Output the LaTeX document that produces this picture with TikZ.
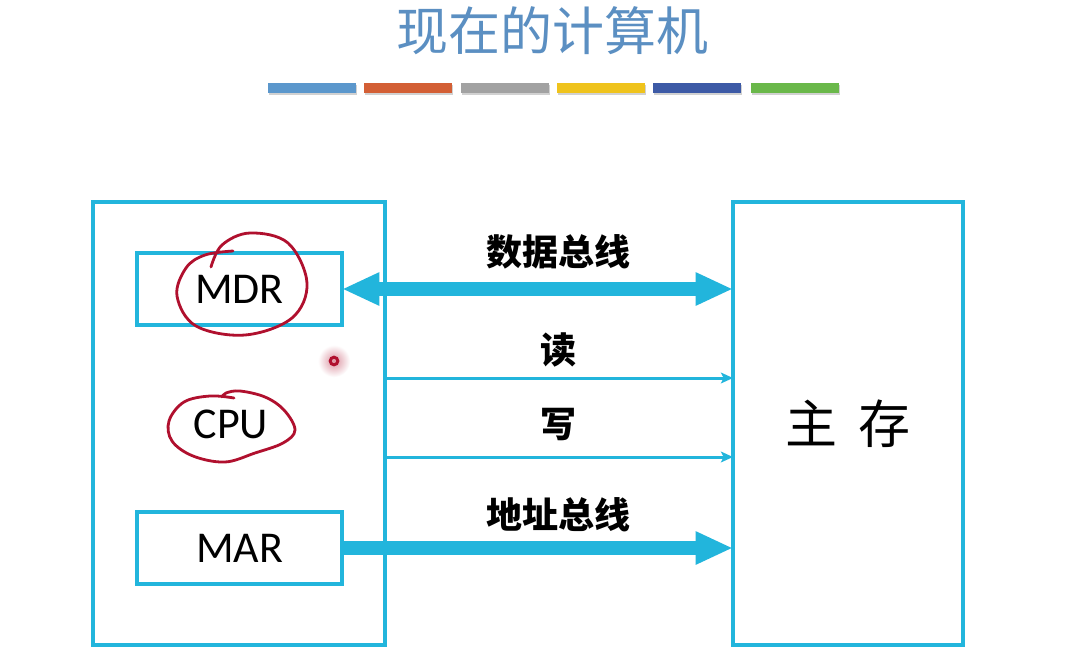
\documentclass[tikz,border=0pt]{standalone}
\usepackage{fontspec}
\setmainfont{Carlito}
\newfontfamily\cjk{Noto Sans CJK SC}
\usetikzlibrary{arrows.meta,calc}
\definecolor{cy}{HTML}{22B5DC}
\definecolor{ttl}{HTML}{5B8FC2}
\definecolor{pen}{HTML}{B0102E}
\definecolor{barA}{HTML}{5B97CC}
\definecolor{barB}{HTML}{D35F35}
\definecolor{barC}{HTML}{A2A2A2}
\definecolor{barD}{HTML}{EFC31C}
\definecolor{barE}{HTML}{3D5AA6}
\definecolor{barF}{HTML}{6AB84A}
\tikzset{bigtip/.tip={Triangle[length=28pt,width=23pt]}}
\begin{document}
\begin{tikzpicture}[x=0.75pt,y=-0.75pt,
  box/.style={draw=cy,line width=3pt,inner sep=0pt,outer sep=0pt},
  reg/.style={box,minimum width=153.75pt,minimum height=54pt,font=\fontsize{33}{36}\selectfont},
  lbl/.style={font=\cjk\bfseries\fontsize{27}{30}\selectfont,inner sep=0pt},
  bus/.style={draw=cy,line width=10pt},
  sig/.style={draw=cy,line width=2.25pt,-{Stealth[length=9pt,width=8pt,inset=2pt]}},
  bar/.style={inner sep=0pt,outer sep=0pt,minimum width=65.5pt,minimum height=7.5pt},
  annot/.style={draw=pen,line width=2.1pt,line cap=round,line join=round}]
\useasboundingbox (0,0) rectangle (1070,664);
\fill[white] (0,0) rectangle (1070,664);

% title
\node[text=ttl,font=\cjk\fontsize{39}{42}\selectfont,inner sep=0pt] (title) at (552,31) {现在的计算机};

% color bars
\foreach \c/\x [count=\i] in {barA/312,barB/408,barC/505,barD/601,barE/697,barF/795}{
  \fill[black,opacity=0.18] (\x-43,85) rectangle (\x+45,95);
  \node[bar,fill=\c] (bar\i) at (\x,88) {};
}

% boxes
\node[box,minimum width=219pt,minimum height=332.25pt] (cpu) at (239,423.5) {};
\node[box,minimum width=172.5pt,minimum height=332.25pt,font=\cjk\fontsize{39}{42}\selectfont] (mem) at (848,423.5) {主\hspace{0.42em}存};
\node[reg] (mdr) at (239.5,289) {MDR};
\node[reg] (mar) at (239.5,548) {MAR};
\node[font=\fontsize{33}{36}\selectfont,inner sep=0pt] (cpulbl) at (231,424) {CPU};

% buses
\draw[bus,{bigtip}-{bigtip}] (mdr.east) -- (mdr.east -| mem.west);
\draw[bus,line width=11pt,-{bigtip}] (mar.east) -- (mar.east -| mem.west);
\coordinate (ry) at (0,378);
\coordinate (wy) at (0,457);
\draw[sig] (cpu.east |- ry) -- (mem.west |- ry);
\draw[sig] (cpu.east |- wy) -- (mem.west |- wy);

% labels
\node[lbl] (ldata) at (558,252) {数据总线};
\node[lbl] (lread) at (558,350) {读};
\node[lbl] (lwrite) at (558,425) {写};
\node[lbl] (laddr) at (558,515) {地址总线};

% hand annotations
\draw[annot] plot[smooth,tension=0.6] coordinates {(211,267) (222,245) (250,233) (288,243) (307,283) (292,318) (245,335) (196,326) (177,296) (186,268) (205,255) (233,251)};
\draw[annot] plot[smooth,tension=0.6] coordinates {(222,397) (226,393) (240,391) (265,397) (284,410) (295,430) (283,443) (255,453) (225,462) (193,456) (172,441) (169,421) (184,402) (210,396) (234,398)};

% pointer dot
\shade[inner color=pen!45,outer color=white] (334,361) circle (16);
\draw[pen,line width=2.2pt] (334,361) circle (3.8);
\end{tikzpicture}
\end{document}
